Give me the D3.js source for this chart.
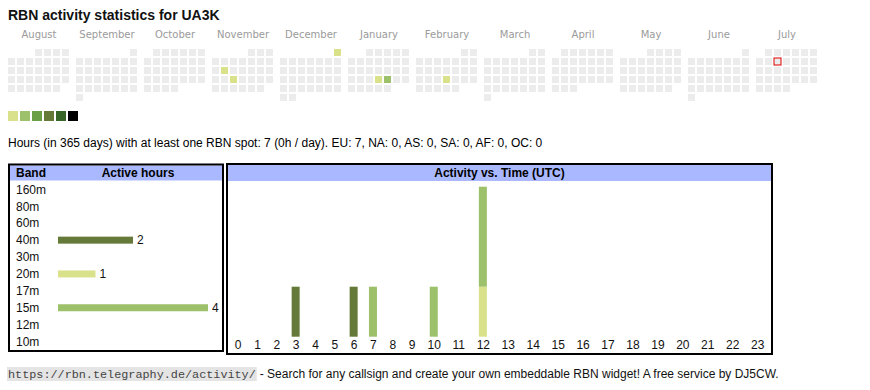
<!DOCTYPE html>
<html>
<head>
<meta charset="utf-8">
<script src="https://cdn.jsdelivr.net/npm/d3@7"></script>
<style>
  body { margin: 0; background: #fff; }
  svg text { font-family: "Liberation Sans", Arial, sans-serif; }
</style>
</head>
<body>
<div id="chart"></div>
<script>
// calendar: Aug 2024 .. Jul 2025
var monthNames = ['August', 'September', 'October', 'November', 'December', 'January',
	'February', 'March', 'April', 'May', 'June', 'July'];
var firstMonth = new Date(2024, 7, 1);
var today = new Date(2025, 6, 9);

// days with activity and the hours on that day
var activeDates = ['2024-11-12', '2024-11-20', '2024-12-01', '2025-01-23', '2025-01-24', '2025-02-20'];
var activeDateHours = [1, 1, 1, 1, 2, 1];

var levelColors = ['#d9e18a', '#9dc06b', '#6a9f45', '#657a38', '#386628', '#000000'];

var bands = ['160m', '80m', '60m', '40m', '30m', '20m', '17m', '15m', '12m', '10m'];
var bandHours = [0, 0, 0, 2, 0, 1, 0, 4, 0, 0];
var bandColors = ['#386628', '#6a9f45', '#4a7a30', '#657a38', '#3d5a20', '#d9e18a', '#b8c96a', '#9dc06b', '#88aa55', '#c4d47a'];

var utcHours = d3.range(24);
// hours active per UTC hour, per band (only bands with activity)
var hours40m = [0, 0, 0, 1, 0, 0, 1, 0, 0, 0, 0, 0, 0, 0, 0, 0, 0, 0, 0, 0, 0, 0, 0, 0];
var hours20m = [0, 0, 0, 0, 0, 0, 0, 0, 0, 0, 0, 0, 1, 0, 0, 0, 0, 0, 0, 0, 0, 0, 0, 0];
var hours15m = [0, 0, 0, 0, 0, 0, 0, 1, 0, 0, 1, 0, 2, 0, 0, 0, 0, 0, 0, 0, 0, 0, 0, 0];

var summary = 'Hours (in 365 days) with at least one RBN spot: 7 (0h / day). EU: 7, NA: 0, AS: 0, SA: 0, AF: 0, OC: 0';

var width = 870, height = 390;
var svg = d3.select('#chart').append('svg').attr('width', width).attr('height', height);

svg.append('text').attr('x', 8).attr('y', 20)
	.style('font-size', '14px').style('font-weight', 'bold').attr('fill', '#111')
	.text('RBN activity statistics for UA3K');

// ---- calendar ----
var cell = 7, step = 9, monthStep = 68, calLeft = 8, calTop = 49;
var fmt = d3.timeFormat('%Y-%m-%d');
var hoursByDate = {};
activeDates.forEach(function (d, i) { hoursByDate[d] = activeDateHours[i]; });

var months = d3.timeMonths(firstMonth, d3.timeMonth.offset(firstMonth, 12));
var cal = svg.append('g');

months.forEach(function (m, mi) {
	var mx = calLeft + mi * monthStep;
	cal.append('text').attr('x', mx + 31).attr('y', 38).attr('text-anchor', 'middle')
		.style('font-family', '"DejaVu Sans", Verdana, sans-serif').style('font-size', '10px')
		.attr('fill', '#9a9a9a').text(monthNames[mi]);

	var days = d3.timeDays(m, d3.timeMonth.offset(m, 1));
	cal.selectAll(null).data(days).enter().append('rect')
		.attr('x', function (d) { return mx + ((d.getDay() + 6) % 7) * step; })
		.attr('y', function (d) { return calTop + d3.timeMonday.count(m, d) * step; })
		.attr('width', cell).attr('height', cell)
		.attr('fill', function (d) {
			var h = hoursByDate[fmt(d)];
			return h ? levelColors[Math.min(h, 6) - 1] : '#ececec';
		})
		.attr('stroke', function (d) { return +d === +today ? '#e00000' : 'none'; })
		.attr('stroke-width', 1);
});

// legend
svg.selectAll('.legend').data(levelColors).enter().append('rect')
	.attr('class', 'legend')
	.attr('x', function (d, i) { return 8 + i * 12; }).attr('y', 111)
	.attr('width', 10).attr('height', 10)
	.attr('fill', function (d) { return d; });

svg.append('text').attr('x', 8).attr('y', 146.5).style('font-size', '12px').attr('fill', '#000')
	.text(summary);

// ---- band table ----
var headerColor = '#aab9ff';
var bt = svg.append('g');
bt.append('rect').attr('x', 10).attr('y', 165.5).attr('width', 212).attr('height', 15).attr('fill', headerColor);
bt.append('rect').attr('x', 9).attr('y', 164.5).attr('width', 214).attr('height', 186.5)
	.attr('fill', 'none').attr('stroke', '#000').attr('stroke-width', 2);
bt.append('text').attr('x', 16).attr('y', 177).style('font-size', '12px').style('font-weight', 'bold').text('Band');
bt.append('text').attr('x', 138).attr('y', 177).attr('text-anchor', 'middle')
	.style('font-size', '12px').style('font-weight', 'bold').text('Active hours');

var rowY = d3.scaleBand().domain(bands).range([181, 350]);
var barX = d3.scaleLinear().domain([0, d3.max(bandHours)]).range([0, 150]);

bands.forEach(function (b, i) {
	var cy = rowY(b) + rowY.bandwidth() / 2;
	bt.append('text').attr('x', 16).attr('y', cy + 4.2).style('font-size', '12px').attr('fill', '#111').text(b);
	if (bandHours[i] > 0) {
		bt.append('rect').attr('x', 58).attr('y', cy - 3.5)
			.attr('width', barX(bandHours[i])).attr('height', 7).attr('fill', bandColors[i]);
		bt.append('text').attr('x', 58 + barX(bandHours[i]) + 4).attr('y', cy + 4.2)
			.style('font-size', '12px').attr('fill', '#111').text(bandHours[i]);
	}
});

// ---- activity vs time ----
var tg = svg.append('g');
var tLeft = 228, tRight = 771, base = 336.7;
tg.append('rect').attr('x', tLeft).attr('y', 165).attr('width', tRight - tLeft).attr('height', 16).attr('fill', headerColor);
tg.append('rect').attr('x', 227).attr('y', 164).attr('width', 545).attr('height', 190)
	.attr('fill', 'none').attr('stroke', '#000').attr('stroke-width', 2);
tg.append('text').attr('x', (tLeft + tRight) / 2).attr('y', 177).attr('text-anchor', 'middle')
	.style('font-size', '12px').style('font-weight', 'bold').text('Activity vs. Time (UTC)');

// table-like columns: width grows with label width
var labels = tg.selectAll('.hour').data(utcHours).enter().append('text')
	.attr('class', 'hour').attr('y', 348.5).attr('text-anchor', 'middle')
	.style('font-size', '12px').attr('fill', '#111')
	.text(function (d) { return d; });
var textW = labels.nodes().map(function (n) { return n.getComputedTextLength() * 0.84; });
var pad = (541.6 - d3.sum(textW)) / 24;
var edges = [0];
textW.forEach(function (w, i) { edges.push(edges[i] + w + pad); });
var colX = d3.scaleLinear().domain([0, edges[24]]).range([tLeft - 0.5, tLeft - 0.5 + 541.6]);
var centerOf = function (h) { return colX((edges[h] + edges[h + 1]) / 2); };
labels.attr('x', function (d) { return centerOf(d) + 1; });

var hourTable = utcHours.map(function (h) {
	var row = { hour: h };
	bands.forEach(function (b) { row[b] = 0; });
	row['40m'] = hours40m[h];
	row['20m'] = hours20m[h];
	row['15m'] = hours15m[h];
	return row;
});
var stacked = d3.stack().keys(bands)(hourTable);
var maxTotal = d3.max(stacked[stacked.length - 1], function (d) { return d[1]; });
var yT = d3.scaleLinear().domain([0, maxTotal]).range([base, base - 150]);

stacked.forEach(function (layer, li) {
	tg.selectAll(null).data(layer.filter(function (d) { return d[1] > d[0]; })).enter().append('rect')
		.attr('x', function (d) { return centerOf(d.data.hour) - 3.5; })
		.attr('y', function (d) { return yT(d[1]); })
		.attr('width', 8)
		.attr('height', function (d) { return yT(d[0]) - yT(d[1]); })
		.attr('fill', bandColors[li]);
});

// ---- footer ----
var foot = svg.append('g');
var linkBg = foot.append('rect').attr('x', 7).attr('y', 367).attr('height', 14).attr('fill', '#e4e4e4');
var link = foot.append('text').attr('x', 8).attr('y', 378)
	.style('font-family', '"Liberation Mono", "Courier New", monospace').style('font-size', '11.8px')
	.attr('fill', '#444').text('https://rbn.telegraphy.de/activity/');
var lw = link.node().getComputedTextLength();
linkBg.attr('width', lw + 2);
foot.append('text').attr('x', 8 + lw + 4).attr('y', 378).style('font-size', '12px').attr('fill', '#111')
	.text('- Search for any callsign and create your own embeddable RBN widget! A free service by DJ5CW.');
</script>
</body>
</html>
